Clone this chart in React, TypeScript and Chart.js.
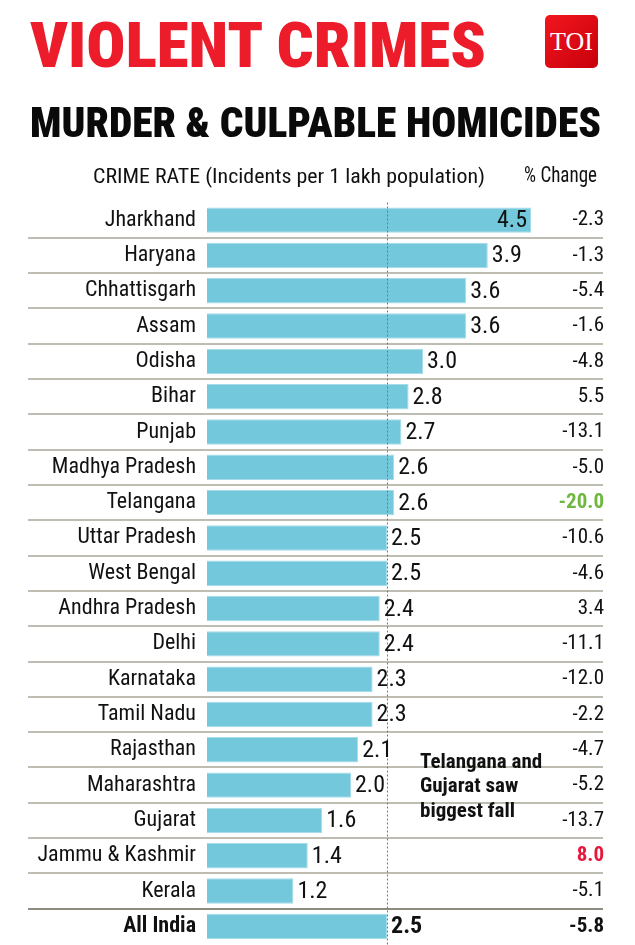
import React, { useEffect, useLayoutEffect, useRef } from 'react';
import { Chart, registerables } from 'chart.js';

Chart.register(...registerables);

const states = [
  'Jharkhand', 'Haryana', 'Chhattisgarh', 'Assam', 'Odisha', 'Bihar', 'Punjab',
  'Madhya Pradesh', 'Telangana', 'Uttar Pradesh', 'West Bengal', 'Andhra Pradesh',
  'Delhi', 'Karnataka', 'Tamil Nadu', 'Rajasthan', 'Maharashtra', 'Gujarat',
  'Jammu & Kashmir', 'Kerala', 'All India',
];
const crimeRate = [4.5, 3.9, 3.6, 3.6, 3.0, 2.8, 2.7, 2.6, 2.6, 2.5, 2.5, 2.4, 2.4, 2.3, 2.3, 2.1, 2.0, 1.6, 1.4, 1.2, 2.5];
const pctChange = [-2.3, -1.3, -5.4, -1.6, -4.8, 5.5, -13.1, -5.0, -20.0, -10.6, -4.6, 3.4, -11.1, -12.0, -2.2, -4.7, -5.2, -13.7, 8.0, -5.1, -5.8];
const pctHighlight = ['', '', '', '', '', '', '', '', 'fall', '', '', '', '', '', '', '', '', '', 'rise', '', 'total'];
const referenceValue = 2.5;
const annotationLines = ['Telangana and', 'Gujarat saw', 'biggest fall'];
const annotationAnchor = 'Rajasthan';

const titleText = 'VIOLENT CRIMES';
const subtitleText = 'MURDER & CULPABLE HOMICIDES';
const headerLeftText = 'CRIME RATE (Incidents per 1 lakh population)';
const headerRightText = '% Change';

const NARROW = "'Roboto Condensed', 'DejaVu Sans Condensed', sans-serif";
const SERIF = "'Liberation Serif', 'DejaVu Serif', serif";

type FitProps = {
  text: string; left: number; top: number; width: number; size: number;
  weight: string | number; color: string; family: string;
};

function FitText({ text, left, top, width, size, weight, color, family }: FitProps) {
  const ref = useRef<HTMLSpanElement>(null);
  useLayoutEffect(() => {
    const fit = () => {
      const el = ref.current;
      if (!el) return;
      el.style.transform = 'none';
      const w = el.getBoundingClientRect().width;
      if (w > 0) el.style.transform = `scaleX(${width / w})`;
    };
    fit();
    if ((document as any).fonts && (document as any).fonts.ready) {
      (document as any).fonts.ready.then(fit);
    }
  }, [text, width]);
  return (
    <span
      ref={ref}
      style={{
        position: 'absolute', left, top, fontFamily: family, fontSize: size,
        fontWeight: weight as any, color, lineHeight: `${size}px`, whiteSpace: 'nowrap',
        transformOrigin: '0 0', display: 'inline-block',
      }}
    >
      {text}
    </span>
  );
}

const rowsPlugin = {
  id: 'rowsPlugin',
  beforeDatasetsDraw(chart: any) {
    const { ctx } = chart;
    const y = chart.scales.y;
    ctx.save();
    for (let i = 0; i < states.length - 1; i++) {
      const yy = Math.round((y.getPixelForValue(i) + y.getPixelForValue(i + 1)) / 2);
      const last = i === states.length - 2;
      ctx.strokeStyle = last ? '#8e8c80' : '#bfbdb2';
      ctx.lineWidth = 2;
      ctx.beginPath();
      ctx.moveTo(28, yy);
      ctx.lineTo(603, yy);
      ctx.stroke();
    }
    ctx.restore();
  },
  afterDatasetsDraw(chart: any) {
    const { ctx, chartArea } = chart;
    const xs = chart.scales.x;
    const ys = chart.scales.y;
    // reference dotted line
    const rx = Math.round(xs.getPixelForValue(referenceValue)) + 0.5;
    ctx.save();
    ctx.strokeStyle = '#e4465a';
    ctx.lineWidth = 1;
    ctx.setLineDash([2, 2]);
    ctx.beginPath();
    ctx.moveTo(rx, chartArea.top);
    ctx.lineTo(rx, chartArea.bottom + 2);
    ctx.stroke();
    ctx.restore();

    // value labels
    const meta = chart.getDatasetMeta(0);
    const maxV = Math.max(...crimeRate);
    ctx.save();
    ctx.textBaseline = 'middle';
    meta.data.forEach((bar: any, i: number) => {
      const v = crimeRate[i];
      const isTotal = i === states.length - 1;
      ctx.font = `${isTotal ? 'bold ' : ''}24px ${NARROW}`;
      ctx.fillStyle = '#111';
      if (v === maxV) {
        ctx.textAlign = 'right';
        ctx.fillText(v.toFixed(1), bar.x - 4, bar.y + 1);
      } else {
        ctx.textAlign = 'left';
        ctx.fillText(v.toFixed(1), bar.x + 4, bar.y + 1);
      }
    });

    // % change column
    ctx.textAlign = 'right';
    pctChange.forEach((p, i) => {
      const yy = ys.getPixelForValue(i);
      const h = pctHighlight[i];
      let color = '#111';
      let bold = false;
      if (h === 'fall') { color = '#6fb83f'; bold = true; }
      if (h === 'rise') { color = '#e8173c'; bold = true; }
      if (h === 'total') { bold = true; }
      ctx.font = `${bold ? 'bold ' : ''}21px ${NARROW}`;
      ctx.fillStyle = color;
      ctx.fillText(p.toFixed(1), 604, yy);
    });

    // annotation
    const ai = states.indexOf(annotationAnchor);
    const ay = ys.getPixelForValue(ai);
    ctx.textBaseline = 'alphabetic';
    ctx.textAlign = 'left';
    ctx.font = `bold 21px ${NARROW}`;
    ctx.fillStyle = '#111';
    annotationLines.forEach((line, k) => {
      ctx.fillText(line, 420, ay + 18 + k * 24.7);
    });
    ctx.restore();
  },
};

export default function App() {
  const canvasRef = useRef<HTMLCanvasElement>(null);

  useEffect(() => {
    const canvas = canvasRef.current;
    if (!canvas) return;
    const last = states.length - 1;
    const chart = new Chart(canvas, {
      type: 'bar',
      data: {
        labels: states,
        datasets: [
          {
            data: crimeRate,
            backgroundColor: '#74c8dc',
            borderColor: '#a6dbe9',
            borderWidth: 1,
            barPercentage: 1,
            categoryPercentage: 0.72,
          },
        ],
      },
      options: {
        indexAxis: 'y',
        responsive: false,
        animation: false,
        devicePixelRatio: 1,
        layout: { padding: { left: 0, right: 32, top: 202.5, bottom: 1 } },
        plugins: { legend: { display: false }, tooltip: { enabled: false }, title: { display: false } },
        scales: {
          x: { display: false, min: 0, max: 5.5 },
          y: {
            grid: { display: false, drawTicks: false },
            border: { display: false },
            ticks: {
              autoSkip: false,
              padding: 11,
              color: '#111',
              font: (c: any) => ({ family: NARROW, size: 22, weight: c.index === last ? 'bold' : 'normal' }),
            },
            afterFit: (scale: any) => {
              scale.width = 207;
              scale.paddingTop = 0;
              scale.paddingBottom = 0;
            },
          },
        },
      },
      plugins: [rowsPlugin],
    } as any);
    return () => chart.destroy();
  }, []);

  return (
    <div style={{ position: 'absolute', left: 0, top: 0, width: 635, height: 945, background: '#fff', overflow: 'hidden' }}>
      <canvas ref={canvasRef} width={635} height={945} style={{ position: 'absolute', left: 0, top: 0, display: 'block' }} />
      <FitText text={titleText} left={30} top={13.5} width={456} size={63} weight={900} color="#ec1c2a" family={NARROW} />
      <div
        style={{
          position: 'absolute', left: 545, top: 15, width: 53, height: 53, borderRadius: 5,
          background: 'linear-gradient(135deg, #f2161e 0%, #c7000b 100%)',
          display: 'flex', alignItems: 'center', justifyContent: 'center',
          color: '#fff', fontFamily: SERIF, fontSize: 26, lineHeight: '26px',
        }}
      >
        TOI
      </div>
      <FitText text={subtitleText} left={30} top={100.5} width={571} size={43} weight={900} color="#0a0a0a" family={NARROW} />
      <FitText text={headerLeftText} left={92.7} top={165.7} width={392} size={20} weight="normal" color="#111" family={NARROW} />
      <FitText text={headerRightText} left={524} top={164} width={73} size={22} weight="normal" color="#111" family={NARROW} />
    </div>
  );
}
